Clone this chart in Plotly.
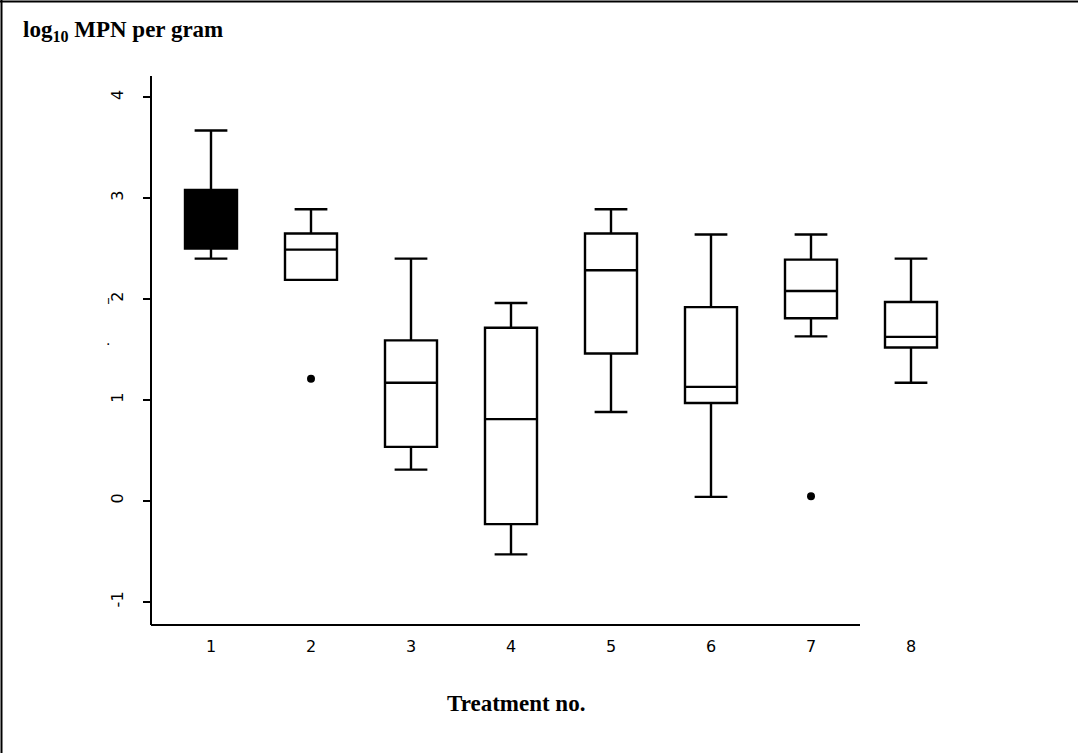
import plotly.graph_objects as go

# Data (log10 MPN per gram)
treatments = [1, 2, 3, 4, 5, 6, 7, 8]
tick_labels = ["1", "2", "3", "4", "5", "6", "7", "8"]
lower_whisker = [2.40, 2.19, 0.31, -0.53, 0.88, 0.04, 1.63, 1.17]
q1_vals = [2.50, 2.19, 0.535, -0.23, 1.46, 0.97, 1.81, 1.52]
median_vals = [2.78, 2.49, 1.17, 0.81, 2.285, 1.13, 2.08, 1.625]
q3_vals = [3.08, 2.65, 1.59, 1.715, 2.65, 1.92, 2.39, 1.97]
upper_whisker = [3.67, 2.89, 2.40, 1.96, 2.89, 2.64, 2.64, 2.40]
outlier_x = [2, 7]
outlier_y = [1.21, 0.046]
y_ticks = [-1, 0, 1, 2, 3, 4]
y_tick_labels = ["-1", "0", "1", "2", "3", "4"]

W, H = 1078, 753
ML, MR, MT, MB = 152, 118, 76, 128
pw, ph = W - ML - MR, H - MT - MB

def px(x):
    return (x - ML) / pw

def py(y):
    return (H - MB - y) / ph

fig = go.Figure()
for i, t in enumerate(treatments):
    filled = (i == 0)
    fig.add_trace(go.Box(
        x=[t], q1=[q1_vals[i]], median=[median_vals[i]], q3=[q3_vals[i]],
        lowerfence=[lower_whisker[i]], upperfence=[upper_whisker[i]],
        width=0.52, whiskerwidth=0.63,
        fillcolor="black" if filled else "white",
        line=dict(color="black", width=2.4),
        boxpoints=False, showlegend=False, hoverinfo="skip",
    ))

fig.add_trace(go.Scatter(
    x=outlier_x, y=outlier_y, mode="markers",
    marker=dict(color="black", size=8, symbol="circle"),
    showlegend=False, hoverinfo="skip",
))

fig.update_layout(
    width=W, height=H,
    margin=dict(l=ML, r=MR, t=MT, b=MB, pad=0),
    paper_bgcolor="white", plot_bgcolor="white",
    xaxis=dict(
        range=[0.41, 8.49], tickmode="array", tickvals=treatments, ticktext=tick_labels,
        showgrid=False, zeroline=False, showline=False, ticks="",
        tickfont=dict(family="DejaVu Sans", size=16, color="black"),
        ticklabelstandoff=10,
    ),
    yaxis=dict(
        range=[-1.23, 4.21], tickmode="array", tickvals=y_ticks, ticktext=y_tick_labels,
        showgrid=False, zeroline=False, showline=True, linecolor="black", linewidth=2,
        ticks="outside", ticklen=7, tickwidth=2, tickcolor="black", tickangle=-90,
        tickfont=dict(family="DejaVu Sans", size=16, color="black"),
        ticklabelstandoff=14,
    ),
    shapes=[
        # x axis line (shorter than plot area, as in the reference)
        dict(type="line", xref="paper", yref="paper", x0=px(151), x1=px(860),
             y0=0, y1=0, line=dict(color="black", width=2)),
        # outer frame (top and left)
        dict(type="line", xref="paper", yref="paper", x0=px(0), x1=px(W),
             y0=py(1.5), y1=py(1.5), line=dict(color="black", width=2)),
        dict(type="line", xref="paper", yref="paper", x0=px(1.5), x1=px(1.5),
             y0=py(0), y1=py(H), line=dict(color="black", width=2)),
    ],
    annotations=[
        dict(text="<b>log<sub>10</sub> MPN per gram</b>", xref="paper", yref="paper",
             x=px(21), y=py(31), xanchor="left", yanchor="middle", showarrow=False,
             font=dict(family="Liberation Serif", size=23, color="black")),
        dict(text="<b>Treatment no.</b>", xref="paper", yref="paper",
             x=px(516), y=py(703), xanchor="center", yanchor="middle", showarrow=False,
             font=dict(family="Liberation Serif", size=23, color="black")),
        # small stray marks left of the y tick labels in the reference
        dict(text="ı", xref="paper", yref="paper", x=px(108), y=py(300),
             xanchor="center", yanchor="middle", showarrow=False,
             font=dict(family="DejaVu Sans", size=11, color="black")),
        dict(text="·", xref="paper", yref="paper", x=px(108), y=py(344),
             xanchor="center", yanchor="middle", showarrow=False,
             font=dict(family="DejaVu Sans", size=14, color="black")),
    ],
)

fig.write_html("out.html")
